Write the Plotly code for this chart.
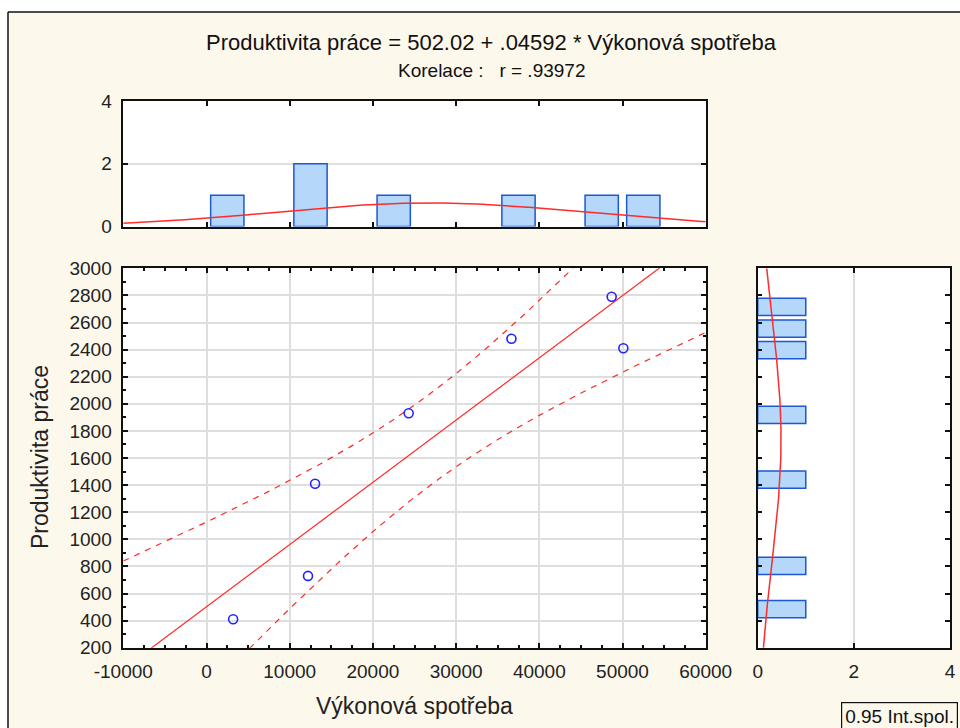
import numpy as np
import plotly.graph_objects as go

# ---- data ----
x_power = [3200, 12200, 13050, 24300, 36650, 48700, 50100]      # Výkonová spotřeba
y_prod = [410, 730, 1410, 1930, 2480, 2790, 2410]                # Produktivita práce
intercept = 502.02
slope = 0.04592
r_value = ".93972"
t_crit = 2.5706  # t(0.975, n-2=5)

x_ticks = [-10000, 0, 10000, 20000, 30000, 40000, 50000, 60000]
y_ticks = list(range(200, 3001, 200))
hist_ticks = [0, 2, 4]

W, H = 960, 728
FONT = "Arial, Liberation Sans, sans-serif"
RED = "#ff2a2a"
BLUE = "#2222ff"
BAR_FILL = "#b4d7fa"
BAR_LINE = "#1c58d4"
CREAM = "#fdf8ec"

xa = np.array(x_power, float)
ya = np.array(y_prod, float)
n = len(xa)

# regression line + 95% confidence band for the mean
xs = np.linspace(-10000, 60000, 400)
yhat = intercept + slope * xs
resid = ya - (intercept + slope * xa)
s = np.sqrt(np.sum(resid ** 2) / (n - 2))
sxx = np.sum((xa - xa.mean()) ** 2)
hw = t_crit * s * np.sqrt(1 / n + (xs - xa.mean()) ** 2 / sxx)

# normal curves for histograms
xbin = 5000
ybin_start, ybin_size = 405, 159.3
mx, sx = xa.mean(), xa.std(ddof=1)
my, sy = ya.mean(), ya.std(ddof=1)
nx_curve = n * xbin * np.exp(-0.5 * ((xs - mx) / sx) ** 2) / (sx * np.sqrt(2 * np.pi))
ys = np.linspace(200, 3000, 400)
ny_curve = n * ybin_size * np.exp(-0.5 * ((ys - my) / sy) ** 2) / (sy * np.sqrt(2 * np.pi))

fig = go.Figure()

# main scatter
fig.add_trace(go.Scatter(x=xs, y=yhat, mode="lines", line=dict(color=RED, width=1.2),
                         xaxis="x", yaxis="y", hoverinfo="skip"))
fig.add_trace(go.Scatter(x=xs, y=yhat + hw, mode="lines", line=dict(color=RED, width=1.2, dash="6px,6px"),
                         xaxis="x", yaxis="y", hoverinfo="skip"))
fig.add_trace(go.Scatter(x=xs, y=yhat - hw, mode="lines", line=dict(color=RED, width=1.2, dash="6px,6px"),
                         xaxis="x", yaxis="y", hoverinfo="skip"))
fig.add_trace(go.Scatter(x=x_power, y=y_prod, mode="markers",
                         marker=dict(symbol="circle-open", size=9, color=BLUE, line=dict(width=1.6, color=BLUE)),
                         xaxis="x", yaxis="y"))

# top histogram
fig.add_trace(go.Histogram(x=x_power, xbins=dict(start=-10000, end=60000, size=xbin),
                           marker=dict(color=BAR_FILL, line=dict(color=BAR_LINE, width=1.5)),
                           xaxis="x2", yaxis="y2"))
fig.add_trace(go.Scatter(x=xs, y=nx_curve, mode="lines", line=dict(color=RED, width=1.5),
                         xaxis="x2", yaxis="y2", hoverinfo="skip"))

# right histogram
fig.add_trace(go.Histogram(y=y_prod, ybins=dict(start=ybin_start, end=3000, size=ybin_size),
                           marker=dict(color=BAR_FILL, line=dict(color=BAR_LINE, width=1.5)),
                           xaxis="x3", yaxis="y3"))
fig.add_trace(go.Scatter(x=ny_curve, y=ys, mode="lines", line=dict(color=RED, width=1.5),
                         xaxis="x3", yaxis="y3", hoverinfo="skip"))

main_x = [123.3 / W, 705.7 / W]
main_y = [1 - 647.7 / H, 1 - 268.3 / H]
top_y = [1 - 226.5 / H, 1 - 101 / H]
right_x = [757.7 / W, 950 / W]

tickfont = dict(family=FONT, size=19, color="#222")
common = dict(showline=True, linecolor="#111", linewidth=1.5, mirror="ticks",
              ticks="inside", ticklen=5, tickcolor="#111", tickwidth=1.5,
              zeroline=False, tickfont=tickfont, gridcolor="#dedede", gridwidth=1.5,
              automargin=False)

x_text = [str(v) for v in x_ticks]
y_text = [str(v) for v in y_ticks]
h_text = [str(v) for v in hist_ticks]

fig.update_layout(
    width=W, height=H,
    margin=dict(l=0, r=0, t=0, b=0, pad=0, autoexpand=False),
    paper_bgcolor=CREAM, plot_bgcolor="white",
    showlegend=False, bargap=0.2,
    font=dict(family=FONT),
    xaxis=dict(domain=main_x, range=[-10000, 60000], tickvals=x_ticks, ticktext=x_text, anchor="y",
               showgrid=True, ticklabelstandoff=6,
               minor=dict(dtick=2500, ticks="inside", ticklen=3, tickcolor="#111", showgrid=False), **common),
    yaxis=dict(domain=main_y, range=[200, 3000], tickvals=y_ticks, ticktext=y_text, anchor="x",
               showgrid=True, ticklabelstandoff=6,
               minor=dict(dtick=100, ticks="inside", ticklen=3, tickcolor="#111", showgrid=False), **common),
    xaxis2=dict(domain=main_x, range=[-10000, 60000], tickvals=x_ticks, anchor="y2",
                showgrid=False, showticklabels=False, **common),
    yaxis2=dict(domain=top_y, range=[0, 4], tickvals=hist_ticks, ticktext=h_text, anchor="x2",
                showgrid=True, ticklabelstandoff=6, **common),
    xaxis3=dict(domain=right_x, range=[0, 4], tickvals=hist_ticks, ticktext=h_text, anchor="y3",
                showgrid=True, ticklabelstandoff=6, **common),
    yaxis3=dict(domain=main_y, range=[200, 3000], tickvals=y_ticks, anchor="x3",
                showgrid=False, showticklabels=False, **common),
)

# page frame (white outer strip + black frame line)
fl, ft = 8 / W, 1 - 12 / H
fig.add_shape(type="rect", xref="paper", yref="paper", x0=0, x1=1, y0=ft, y1=1,
              fillcolor="white", line=dict(width=0), layer="above")
fig.add_shape(type="rect", xref="paper", yref="paper", x0=0, x1=fl, y0=0, y1=1,
              fillcolor="white", line=dict(width=0), layer="above")
fig.add_shape(type="line", xref="paper", yref="paper", x0=fl, x1=fl, y0=0, y1=ft,
              line=dict(color="#111", width=1.5))
fig.add_shape(type="line", xref="paper", yref="paper", x0=fl, x1=1, y0=ft, y1=ft,
              line=dict(color="#111", width=1.5))

ann = [
    dict(text="Produktivita práce = 502.02 + .04592 * Výkonová spotřeba", x=492 / W, y=1 - 42 / H,
         font=dict(family=FONT, size=22, color="#111")),
    dict(text=f"Korelace :   r = {r_value}", x=492 / W, y=1 - 71 / H,
         font=dict(family=FONT, size=19, color="#111")),
    dict(text="Výkonová spotřeba", x=414 / W, y=1 - 706 / H,
         font=dict(family=FONT, size=23, color="#222")),
    dict(text="Produktivita práce", x=40 / W, y=1 - 457 / H, textangle=-90,
         font=dict(family=FONT, size=23, color="#222")),
]
for a in ann:
    fig.add_annotation(xref="paper", yref="paper", showarrow=False, xanchor="center", yanchor="middle", **a)

fig.add_annotation(text="0.95 Int.spol.", xref="paper", yref="paper", x=841 / W, y=1 - 702 / H,
                   xanchor="left", yanchor="top", showarrow=False, align="left",
                   font=dict(family=FONT, size=19, color="#111"),
                   bordercolor="#111", borderwidth=1.2, borderpad=3, bgcolor=CREAM)

fig.write_html("out.html")
